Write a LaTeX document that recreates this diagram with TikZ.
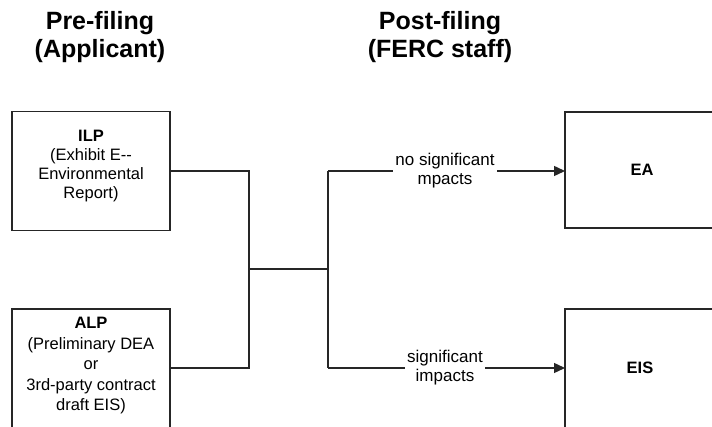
\documentclass[tikz,border=0pt]{standalone}
\usepackage{fontspec}
\setmainfont{Liberation Sans}
\usetikzlibrary{arrows.meta}
\begin{document}
\begin{tikzpicture}[x=1pt,y=-1pt,
  box/.style={draw=black!85,line width=1.4pt,rectangle,inner sep=0pt},
  boxtext/.style={align=center,font=\fontsize{16.5}{19}\selectfont,inner sep=0pt},
  head/.style={align=center,font=\fontsize{25}{28}\selectfont\bfseries,inner sep=0pt},
  conn/.style={draw=black!85,line width=1.4pt},
  arr/.style={conn,-{Triangle[length=11pt,width=10pt]}},
  lbl/.style={fill=white,align=center,font=\fontsize{17}{19}\selectfont,inner sep=2pt}]
\useasboundingbox (0,0) rectangle (712,427);
\fill[white] (0,0) rectangle (712,427);
% headers
\node[head] (hpre) at (100,37) {Pre-filing\\(Applicant)};
\node[head] (hpost) at (440,37) {Post-filing\\(FERC staff)};
% boxes
\node[box,minimum width=158pt,minimum height=119pt] (ilp) at (91,171) {};
\node[boxtext] (ilpt) at (91,166) {\textbf{ILP}\\(Exhibit E-{}-\\Environmental\\Report)};
\node[box,minimum width=158pt,minimum height=150pt] (alp) at (91,384) {};
\node[boxtext,font=\fontsize{16.5}{20.5}\selectfont] (alpt) at (91,366) {\textbf{ALP}\\(Preliminary DEA\\or\\3rd-party contract\\draft EIS)};
\node[box,minimum width=200pt,minimum height=116pt] (ea) at (665,170) {};
\node[boxtext] (eat) at (642,170) {\textbf{EA}};
\node[box,minimum width=200pt,minimum height=160pt] (eis) at (665,389) {};
\node[boxtext] (eist) at (640,368) {\textbf{EIS}};
% junction coordinates
\coordinate (a1) at (249,171);
\coordinate (a2) at (249,368);
\coordinate (jm) at (249,269);
\coordinate (b0) at (328,269);
\coordinate (b1) at (328,171);
\coordinate (b2) at (328,368);
\coordinate (alpe) at (170,368);
\coordinate (eae) at (565,171);
\coordinate (eise) at (565,368);
% connectors
\draw[conn] (ilp.east) -- (a1) -- (a2) -- (alpe);
\draw[conn] (jm) -- (b0);
\draw[conn] (b1) -- (b2);
\draw[arr] (b1) -- (eae);
\draw[arr] (b2) -- (eise);
% labels
\node[lbl] (l1) at (445,171) {no significant\\mpacts};
\node[lbl] (l2) at (445,368) {significant\\impacts};
\end{tikzpicture}
\end{document}
